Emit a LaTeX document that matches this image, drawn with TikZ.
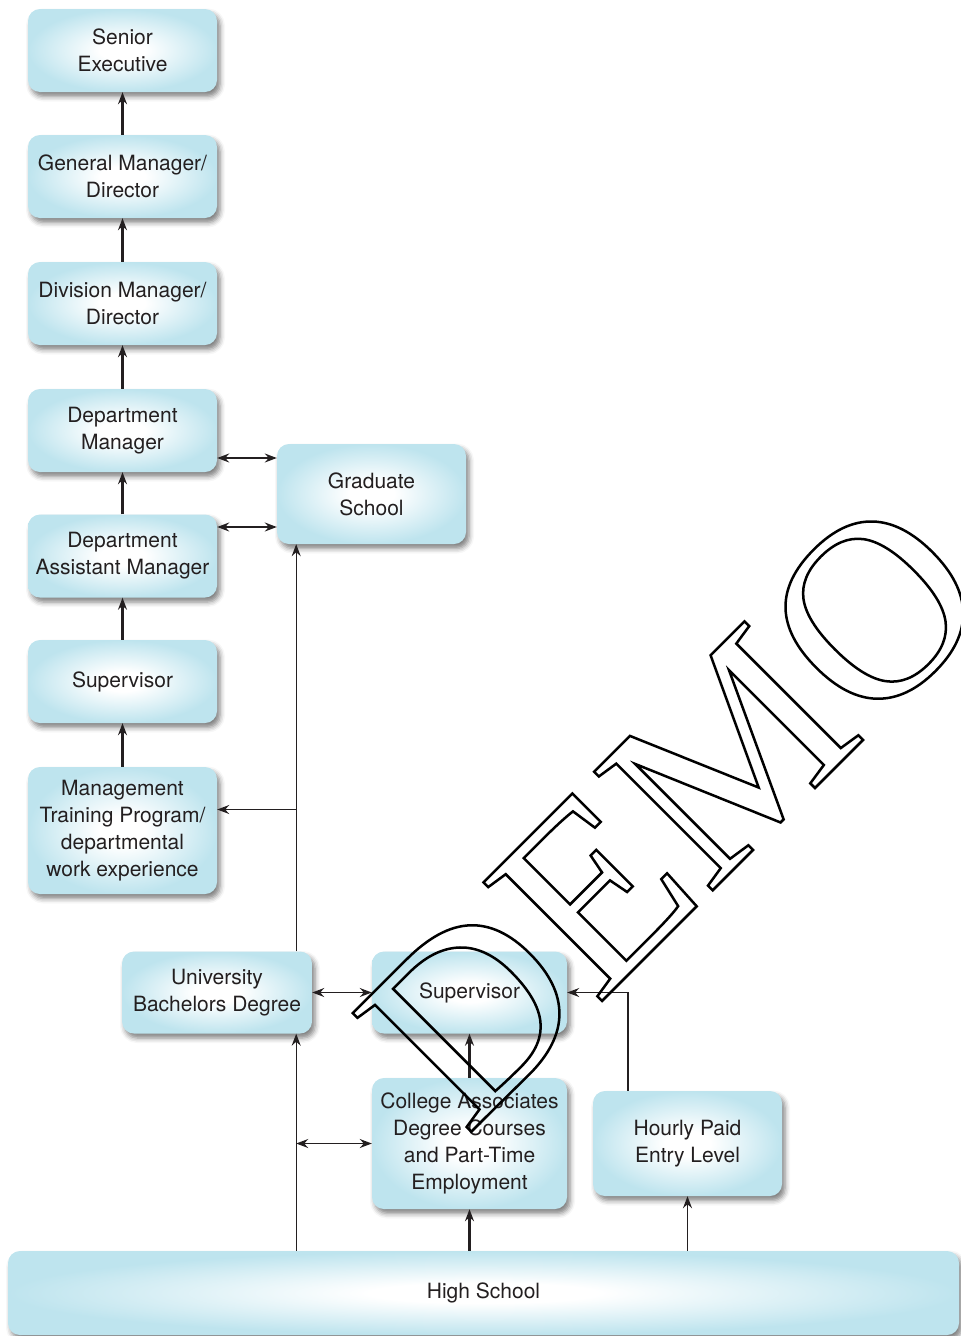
\documentclass[tikz,border=0pt]{standalone}
\usepackage{fontspec}
\setmainfont{TeX Gyre Heros}
\newfontfamily\demofont{Liberation Serif}
\usetikzlibrary{arrows.meta,shadows.blur}
\definecolor{boxblue}{RGB}{190,228,238}
\definecolor{txt}{RGB}{35,31,32}
\pgfdeclareradialshading{boxshade}{\pgfpoint{0bp}{0bp}}{color(0bp)=(white); color(6bp)=(white); color(25bp)=(boxblue); color(50bp)=(boxblue)}
\tikzset{
  box/.style={rectangle, rounded corners=12pt, shading=boxshade,
    blur shadow={shadow xshift=3pt, shadow yshift=-4.5pt, shadow blur radius=5pt, shadow opacity=50},
    text=txt, align=center, font=\fontsize{21}{27}\selectfont, inner sep=0pt},
  tip/.tip={Stealth[length=12pt,width=9pt,inset=4pt]},
  arr/.style={draw=txt, line width=1.4pt, -tip},
  thickarr/.style={draw=txt, line width=2.2pt, -tip},
  darr/.style={draw=txt, line width=1.4pt, tip-tip},
}
\begin{document}
\begin{tikzpicture}[x=1pt,y=-1pt]
\useasboundingbox (0,0) rectangle (961,1336);
% left column
\node[box, minimum width=189pt, minimum height=83pt] (se) at (122.5,50.5) {Senior\\Executive};
\node[box, minimum width=189pt, minimum height=83pt] (gm) at (122.5,176.5) {General Manager/\\Director};
\node[box, minimum width=189pt, minimum height=83pt] (dm) at (122.5,303.5) {Division Manager/\\Director};
\node[box, minimum width=189pt, minimum height=83pt] (dept) at (122.5,430.5) {Department\\Manager};
\node[box, minimum width=189pt, minimum height=83pt] (asst) at (122.5,556) {Department\\Assistant Manager};
\node[box, minimum width=189pt, minimum height=83pt] (sup) at (122.5,681.5) {Supervisor};
\node[box, minimum width=189pt, minimum height=127pt] (mtp) at (122.5,830.5) {Management\\Training Program/\\departmental\\work experience};
% others
\node[box, minimum width=189pt, minimum height=100pt] (grad) at (371.5,494) {Graduate\\School};
\node[box, minimum width=190pt, minimum height=82pt] (univ) at (217,992.5) {University\\Bachelors Degree};
\node[box, minimum width=195pt, minimum height=82pt] (sup2) at (469.5,992.5) {Supervisor};
\node[box, minimum width=195pt, minimum height=131pt] (coll) at (469.5,1143.5) {College Associates\\Degree Courses\\and Part-Time\\Employment};
\node[box, minimum width=189pt, minimum height=105pt] (hourly) at (687.5,1143.5) {Hourly Paid\\Entry Level};
\node[box, minimum width=951pt, minimum height=84pt] (hs) at (483.5,1293) {High School};
% left column arrows
\draw[thickarr] (gm.north) -- (se.south);
\draw[thickarr] (dm.north) -- (gm.south);
\draw[thickarr] (dept.north) -- (dm.south);
\draw[thickarr] (asst.north) -- (dept.south);
\draw[thickarr] (sup.north) -- (asst.south);
\draw[thickarr] (mtp.north) -- (sup.south);
% graduate school links
\coordinate (g1) at ([yshift=36pt]grad.west);
\coordinate (g2) at ([yshift=-33pt]grad.west);
\draw[darr] (dept.east |- g1) -- (g1);
\draw[darr] (asst.east |- g2) -- (g2);
% main vertical line
\coordinate (v1) at ([xshift=-16pt]univ.north east);
\coordinate (m1) at ([yshift=21pt]mtp.east);
\draw[arr] (v1) -- (v1 |- grad.south);
\draw[arr] (v1 |- m1) -- (m1);
\draw[arr] (v1 |- hs.north) -- (v1 |- univ.south);
\draw[darr] (v1 |- coll.west) -- (coll.west);
\draw[darr] (univ.east) -- (sup2.west);
\draw[thickarr] (coll.north) -- (sup2.south);
\draw[thickarr] (coll.south |- hs.north) -- (coll.south);
\draw[arr] (hourly.south |- hs.north) -- (hourly.south);
\coordinate (h1) at ([xshift=-59.5pt]hourly.north);
\draw[arr, line width=1.1pt] (h1) |- (sup2.east);
% watermark
\node[rotate=45, anchor=base west, inner sep=0pt, font=\demofont\fontsize{256}{256}\selectfont] (demo) at (466,1137)
  {\special{pdf:literal direct 2.5 w 1 Tr}DEMO\special{pdf:literal direct 0 Tr}};
\end{tikzpicture}
\end{document}
